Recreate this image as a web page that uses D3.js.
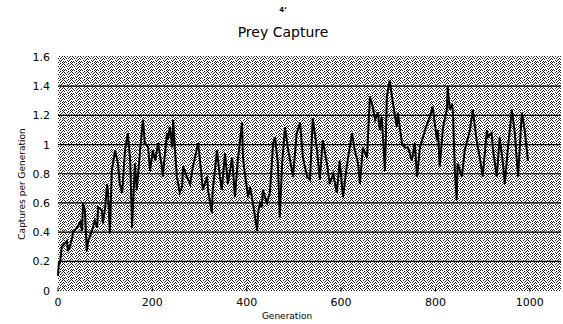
<!DOCTYPE html>
<html>
<head>
<meta charset="utf-8">
<script src="https://cdn.jsdelivr.net/npm/d3@7"></script>
<style>
  body { margin: 0; background: #fff; }
  svg { display: block; font-family: 'DejaVu Sans', sans-serif; }
  .tick-label { font-size: 11px; fill: #000; }
  .axis-title { font-size: 9px; fill: #000; }
</style>
</head>
<body>
<div id="chart"></div>
<script>
// values (generation, captures per generation)
const generations = [
  0, 2, 4, 8, 19, 21, 25, 30, 32, 40, 47, 51, 53, 57, 61, 64, 72, 78, 83, 85,
  93, 95, 100, 104, 106, 110, 114, 121, 127, 131, 136, 142, 148, 153, 157, 163, 167, 174, 180, 184,
  191, 195, 201, 206, 212, 220, 222, 231, 233, 237, 242, 244, 248, 252, 258, 263, 265, 273, 280, 286,
  297, 301, 307, 316, 318, 326, 328, 337, 343, 347, 354, 360, 369, 375, 381, 390, 392, 396, 403, 407,
  413, 422, 424, 428, 432, 434, 443, 449, 456, 460, 466, 470, 475, 481, 487, 498, 506, 513, 519, 528,
  534, 540, 549, 555, 561, 570, 576, 583, 591, 597, 604, 612, 623, 629, 636, 640, 646, 655, 661, 667,
  672, 678, 682, 686, 693, 697, 703, 710, 718, 720, 729, 735, 742, 750, 756, 761, 767, 778, 788, 794,
  803, 805, 809, 816, 824, 826, 830, 835, 837, 841, 845, 847, 856, 862, 873, 879, 888, 894, 900, 909,
  911, 919, 922, 930, 936, 943, 947, 953, 962, 968, 975, 983, 989, 996
];
const captures = [
  0.1, 0.2, 0.18, 0.3, 0.34, 0.27, 0.3, 0.36, 0.4, 0.43, 0.47, 0.41, 0.6, 0.55, 0.27, 0.34, 0.41, 0.48, 0.43, 0.57,
  0.55, 0.46, 0.57, 0.73, 0.67, 0.39, 0.82, 0.96, 0.87, 0.73, 0.67, 0.96, 1.08, 0.89, 0.43, 0.87, 0.69, 0.96, 1.17, 1.01,
  0.98, 0.82, 0.96, 0.89, 1.01, 0.85, 0.78, 1.08, 1.03, 1.12, 0.98, 1.17, 0.96, 0.78, 0.67, 0.71, 0.85, 0.78, 0.73, 0.85,
  1.01, 0.89, 0.69, 0.78, 0.69, 0.53, 0.69, 0.96, 0.78, 0.69, 0.94, 0.73, 0.91, 0.64, 0.89, 1.15, 0.91, 0.8, 0.64, 0.71,
  0.6, 0.41, 0.53, 0.6, 0.57, 0.69, 0.6, 0.67, 1.01, 1.05, 0.87, 0.5, 0.87, 1.12, 0.98, 0.78, 1.08, 1.15, 0.91, 0.78,
  0.76, 1.18, 0.96, 0.76, 1.03, 0.87, 0.73, 0.8, 0.67, 0.89, 0.64, 0.85, 1.08, 0.96, 0.87, 0.73, 0.98, 0.91, 1.33, 1.26,
  1.17, 1.22, 1.1, 1.19, 0.82, 1.33, 1.44, 1.28, 1.12, 1.22, 1.01, 0.98, 0.98, 0.89, 1.01, 0.78, 0.98, 1.1, 1.19, 1.26,
  1.03, 1.1, 0.85, 1.12, 1.24, 1.4, 1.24, 1.28, 1.22, 0.82, 0.62, 0.87, 0.78, 0.96, 1.1, 1.24, 1.01, 0.91, 0.78, 1.1,
  1.05, 1.08, 0.96, 0.78, 1.05, 0.87, 0.73, 0.96, 1.24, 1.08, 0.78, 1.22, 1.1, 0.89
];
const yTicks = [0, 0.2, 0.4, 0.6, 0.8, 1, 1.2, 1.4, 1.6];
const xTicks = [0, 200, 400, 600, 800, 1000];

const width = 563;
const height = 324;
const plotLeft = 58, plotRight = 561, plotTop = 57, plotBottom = 290.5;

const svg = d3.select('#chart')
  .append('svg')
  .attr('width', width)
  .attr('height', height);

const x = d3.scaleLinear().domain([0, 1066]).range([plotLeft, plotRight]);
const y = d3.scaleLinear().domain([0, 1.6]).range([plotBottom, plotTop]);

// dithered grey, like the scanned halftone
const dots = [
  [0, 0], [3, 0], [6, 0], [1, 1], [5, 1], [2, 2], [4, 2], [7, 2],
  [0, 3], [6, 3], [3, 4], [5, 4], [1, 5], [4, 5], [7, 5],
  [0, 6], [2, 6], [6, 6], [4, 7], [7, 7]
];
const pat = svg.append('defs').append('pattern')
  .attr('id', 'stipple')
  .attr('width', 8)
  .attr('height', 8)
  .attr('patternUnits', 'userSpaceOnUse');
pat.append('rect').attr('width', 8).attr('height', 8).attr('fill', '#fff');
dots.forEach(([px, py]) => {
  pat.append('rect').attr('x', px).attr('y', py).attr('width', 1).attr('height', 1).attr('fill', '#222');
});

svg.append('rect')
  .attr('x', plotLeft)
  .attr('y', plotTop - 1)
  .attr('width', plotRight - plotLeft)
  .attr('height', plotBottom - plotTop + 1.5)
  .attr('fill', 'url(#stipple)');

// horizontal grid
svg.append('g')
  .selectAll('line')
  .data(yTicks.filter(d => d > 0 && d < 1.6))
  .join('line')
  .attr('x1', plotLeft)
  .attr('x2', plotRight)
  .attr('y1', d => y(d))
  .attr('y2', d => y(d))
  .attr('stroke', '#000')
  .attr('stroke-width', 1.2);

// y tick labels
svg.append('g')
  .selectAll('text')
  .data(yTicks)
  .join('text')
  .attr('class', 'tick-label')
  .attr('x', 50)
  .attr('y', d => y(d) + 4)
  .attr('text-anchor', 'end')
  .text(d => d3.format('~g')(d));

// x ticks
const xAxis = svg.append('g');
xAxis.selectAll('line')
  .data(xTicks)
  .join('line')
  .attr('x1', d => x(d))
  .attr('x2', d => x(d))
  .attr('y1', plotBottom - 3)
  .attr('y2', plotBottom + 1)
  .attr('stroke', '#000');
xAxis.selectAll('text')
  .data(xTicks)
  .join('text')
  .attr('class', 'tick-label')
  .attr('x', d => x(d))
  .attr('y', 306)
  .attr('text-anchor', 'middle')
  .text(d => d);

// the series
const line = d3.line()
  .x((d, i) => x(generations[i]))
  .y(d => y(d));

svg.append('path')
  .datum(captures)
  .attr('fill', 'none')
  .attr('stroke', '#000')
  .attr('stroke-width', 2)
  .attr('stroke-linejoin', 'miter')
  .attr('d', line);

// titles
svg.append('text')
  .attr('x', 283)
  .attr('y', 37)
  .attr('text-anchor', 'middle')
  .style('font-size', '14px')
  .text('Prey Capture');

svg.append('text')
  .attr('x', 283)
  .attr('y', 12)
  .attr('text-anchor', 'middle')
  .style('font-size', '7px')
  .style('font-weight', 'bold')
  .text('4ʻ');

svg.append('text')
  .attr('class', 'axis-title')
  .attr('x', 287)
  .attr('y', 319)
  .attr('text-anchor', 'middle')
  .text('Generation');

svg.append('text')
  .attr('class', 'axis-title')
  .attr('transform', 'translate(25,184) rotate(-90)')
  .attr('text-anchor', 'middle')
  .text('Captures per Generation');
</script>
</body>
</html>
